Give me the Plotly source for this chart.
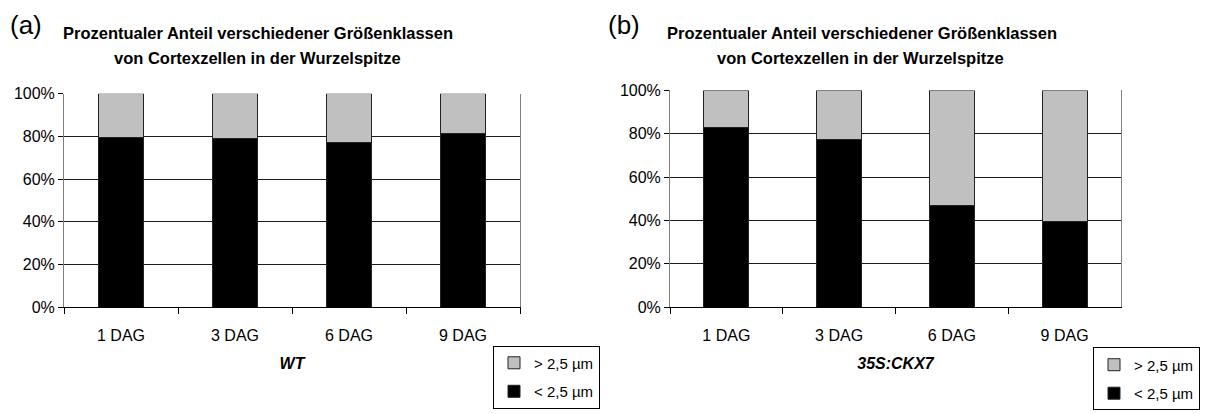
import plotly.graph_objects as go

categories = ["1 DAG", "3 DAG", "6 DAG", "9 DAG"]
wt_small = [0.795, 0.79, 0.77, 0.815]
wt_large = [1 - v for v in wt_small]
ckx_small = [0.83, 0.775, 0.47, 0.395]
ckx_large = [1 - v for v in ckx_small]
legend_large = "&gt; 2,5 µm"
legend_small = "&lt; 2,5 µm"
title_line1 = "Prozentualer Anteil verschiedener Größenklassen"
title_line2 = "von Cortexzellen in der Wurzelspitze"
genotypes = ["WT", "35S:CKX7"]
panel_labels = ["(a)", "(b)"]

FONT = "Liberation Sans, Arial, sans-serif"
W, H = 1210, 414
BLACK = "#000000"
GRAY = "#c0c0c0"

fig = go.Figure()

def add_panel(small, large, xa, ya, leg, tag):
    fig.add_trace(go.Bar(x=categories, y=small, name=legend_small,
                         marker=dict(color=BLACK, line=dict(color="#222", width=1)),
                         xaxis=xa, yaxis=ya, legend=leg, legendgroup=tag + "s", legendrank=2, width=0.4))
    fig.add_trace(go.Bar(x=categories, y=large, name=legend_large,
                         marker=dict(color=GRAY, line=dict(color="#222", width=1)),
                         xaxis=xa, yaxis=ya, legend=leg, legendgroup=tag + "l", legendrank=1, width=0.4))

add_panel(wt_small, wt_large, "x", "y", "legend", "a")
add_panel(ckx_small, ckx_large, "x2", "y2", "legend2", "b")

def px_x(p):
    return p / W

def px_y(p):
    return 1 - p / H

xcommon = dict(type="category", showline=True, linecolor=BLACK, linewidth=1, ticks="outside", tickson="boundaries",
               ticklen=6, tickcolor=BLACK, showgrid=False, tickfont=dict(family=FONT, size=16, color=BLACK),
               ticklabelstandoff=14, fixedrange=True)
ycommon = dict(range=[0, 1], tickvals=[0, 0.2, 0.4, 0.6, 0.8, 1.0], tickformat=".0%", showline=True, linecolor="#808080",
               linewidth=1, mirror=True, ticks="outside", ticklen=5, tickcolor=BLACK, showgrid=True, gridcolor="#1a1a1a",
               gridwidth=1, zeroline=False, tickfont=dict(family=FONT, size=16, color=BLACK), fixedrange=True)

legcommon = dict(bordercolor=BLACK, borderwidth=1, bgcolor="white", font=dict(family=FONT, size=15, color=BLACK),
                 traceorder="grouped", tracegroupgap=6, itemwidth=30, yanchor="top", xanchor="right")

fig.update_layout(
    width=W, height=H, margin=dict(l=0, r=0, t=0, b=0),
    paper_bgcolor="white", plot_bgcolor="white", barmode="stack",
    font=dict(family=FONT, color=BLACK),
    xaxis=dict(domain=[px_x(64), px_x(520)], anchor="y",
               title=dict(text="<b><i>" + genotypes[0] + "</i></b>", font=dict(family=FONT, size=16, color=BLACK), standoff=14),
               **xcommon),
    yaxis=dict(domain=[px_y(312), px_y(89.5)], anchor="x", **ycommon),
    xaxis2=dict(domain=[px_x(670), px_x(1121)], anchor="y2",
                title=dict(text="<b><i>" + genotypes[1] + "</i></b>", font=dict(family=FONT, size=16, color=BLACK), standoff=14),
                **xcommon),
    yaxis2=dict(domain=[px_y(312), px_y(86)], anchor="x2", **ycommon),
    legend=dict(x=px_x(600), y=px_y(352), **legcommon),
    legend2=dict(x=px_x(1200), y=px_y(354), **legcommon),
    showlegend=True,
)

annots = [
    dict(text=panel_labels[0], x=px_x(8), y=px_y(18), xanchor="left", font=dict(family=FONT, size=26, color=BLACK)),
    dict(text=panel_labels[1], x=px_x(606), y=px_y(18), xanchor="left", font=dict(family=FONT, size=26, color=BLACK)),
    dict(text="<b>" + title_line1 + "</b>", x=px_x(258), y=px_y(26), xanchor="center", font=dict(family=FONT, size=16.5, color=BLACK)),
    dict(text="<b>" + title_line2 + "</b>", x=px_x(257), y=px_y(52), xanchor="center", font=dict(family=FONT, size=16.5, color=BLACK)),
    dict(text="<b>" + title_line1 + "</b>", x=px_x(862), y=px_y(26), xanchor="center", font=dict(family=FONT, size=16.5, color=BLACK)),
    dict(text="<b>" + title_line2 + "</b>", x=px_x(860), y=px_y(52), xanchor="center", font=dict(family=FONT, size=16.5, color=BLACK)),
]
for a in annots:
    fig.add_annotation(xref="paper", yref="paper", showarrow=False, yanchor="middle", **a)

fig.write_html("out.html")
